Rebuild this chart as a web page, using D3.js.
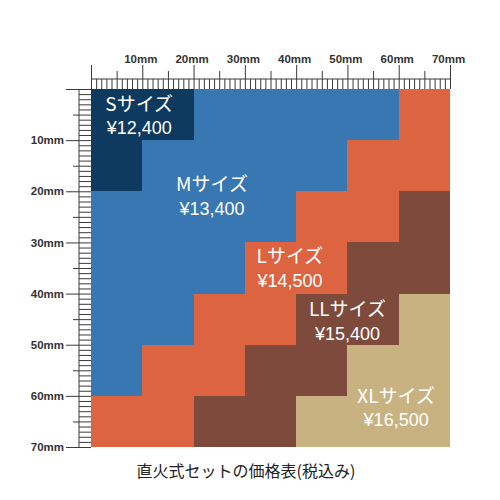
<!DOCTYPE html>
<html>
<head>
    <meta charset="utf-8">
    <title>price_table</title>
    <script src="https://cdn.jsdelivr.net/npm/d3@7"></script>
    <style>
        body { margin: 0; background: #fff; }
    </style>
</head>
<body>
    <svg width="500" height="500"></svg>
    <script>
        // size grid, 10mm cells, rows top to bottom
        var gridRows = [
            ["S", "S", "M", "M", "M", "M", "L"],
            ["S", "M", "M", "M", "M", "L", "L"],
            ["M", "M", "M", "M", "L", "L", "LL"],
            ["M", "M", "M", "L", "L", "LL", "LL"],
            ["M", "M", "L", "L", "LL", "LL", "XL"],
            ["M", "L", "L", "LL", "LL", "XL", "XL"],
            ["L", "L", "LL", "LL", "XL", "XL", "XL"]
        ];
        var cellStarts = [0, 10, 20, 30, 40, 50, 60]; // mm
        var sizes = ["S", "M", "L", "LL", "XL"];
        var prices = ["¥12,400", "¥13,400", "¥14,500", "¥15,400", "¥16,500"];
        var mmTicks = d3.range(0, 71);
        var title = "直火式セットの価格表(税込み)";

        var colors = { S: "#0f3a60", M: "#3877b1", L: "#dd6440", LL: "#7d4a3c", XL: "#c9b282" };
        // label anchor (mm) for each size block
        var labelAt = {
            S: [9.4, 4.3], M: [23.6, 20.0], L: [38.8, 34.1], LL: [50.0, 44.4], XL: [59.5, 61.3]
        };
        var ink = "#3a3a3a";

        var svg = d3.select("svg");

        var x = d3.scaleLinear().domain([0, 70]).range([91, 450]);
        var y = d3.scaleLinear().domain([0, 70]).range([89, 447]);
        var cw = x(10) - x(0), ch = y(10) - y(0);

        // cells
        svg.append("g")
            .attr("shape-rendering", "crispEdges")
            .selectAll("g")
            .data(gridRows)
            .join("g")
            .each(function(row, i) {
                d3.select(this).selectAll("rect")
                    .data(row)
                    .join("rect")
                    .attr("x", function(d, j) { return x(cellStarts[j]); })
                    .attr("y", y(cellStarts[i]))
                    .attr("width", function(d, j) { return j < row.length - 1 ? cw + 1 : cw; })
                    .attr("height", i < gridRows.length - 1 ? ch + 1 : ch)
                    .attr("fill", function(d) { return colors[d]; });
            });

        // labels: size name (CJK font) and price below it
        var lab = svg.append("g")
            .attr("fill", "#fff")
            .attr("text-anchor", "middle");
        sizes.forEach(function(s, i) {
            var p = labelAt[s];
            lab.append("text")
                .attr("x", x(p[0])).attr("y", y(p[1]))
                .attr("font-family", "'Noto Sans CJK JP', 'Noto Sans', sans-serif")
                .attr("font-size", 19)
                .text(s + "サイズ");
            lab.append("text")
                .attr("x", x(p[0])).attr("y", y(p[1]) + 23.5)
                .attr("font-family", "'Liberation Sans', Arial, sans-serif")
                .attr("font-size", 18)
                .text(prices[i]);
        });

        function tickLen(d, minor, mid, major) {
            return d % 10 === 0 ? major : (d % 5 === 0 ? mid : minor);
        }
        function mmLabel(d) { return d % 10 === 0 && d > 0 ? d + "mm" : ""; }

        // top ruler
        var gt = svg.append("g")
            .attr("transform", "translate(0," + y(0) + ")")
            .call(d3.axisTop(x).tickValues(mmTicks).tickSize(10).tickSizeOuter(0).tickFormat(mmLabel));
        gt.select(".domain").remove();
        gt.selectAll(".tick line")
            .attr("stroke", ink)
            .attr("y2", function(d) { return -tickLen(d, 10, 18, 24); });
        gt.selectAll(".tick text")
            .attr("y", -26).attr("dx", -2)
            .attr("fill", "#333")
            .attr("font-family", "'Liberation Sans', Arial, sans-serif")
            .attr("font-weight", "bold")
            .attr("font-size", 11.5);
        gt.append("line")
            .attr("x1", x(0)).attr("x2", x(70))
            .attr("y1", -10).attr("y2", -10)
            .attr("stroke", ink);

        // left ruler
        var gl = svg.append("g")
            .attr("transform", "translate(" + x(0) + ",0)")
            .call(d3.axisLeft(y).tickValues(mmTicks).tickSize(12).tickSizeOuter(0).tickFormat(mmLabel));
        gl.select(".domain").remove();
        gl.selectAll(".tick line")
            .attr("stroke", ink)
            .attr("x2", function(d) { return -tickLen(d, 12, 18, 25); });
        gl.selectAll(".tick text")
            .attr("x", -27)
            .attr("fill", "#333")
            .attr("font-family", "'Liberation Sans', Arial, sans-serif")
            .attr("font-weight", "bold")
            .attr("font-size", 11.5);
        gl.append("line")
            .attr("x1", -12).attr("x2", -12)
            .attr("y1", y(0)).attr("y2", y(70))
            .attr("stroke", ink);

        // title
        svg.append("text")
            .attr("x", 246)
            .attr("y", 477)
            .attr("text-anchor", "middle")
            .attr("font-family", "'Noto Sans CJK JP', sans-serif")
            .attr("font-size", 16)
            .attr("fill", "#222")
            .text(title);
    </script>
</body>
</html>
